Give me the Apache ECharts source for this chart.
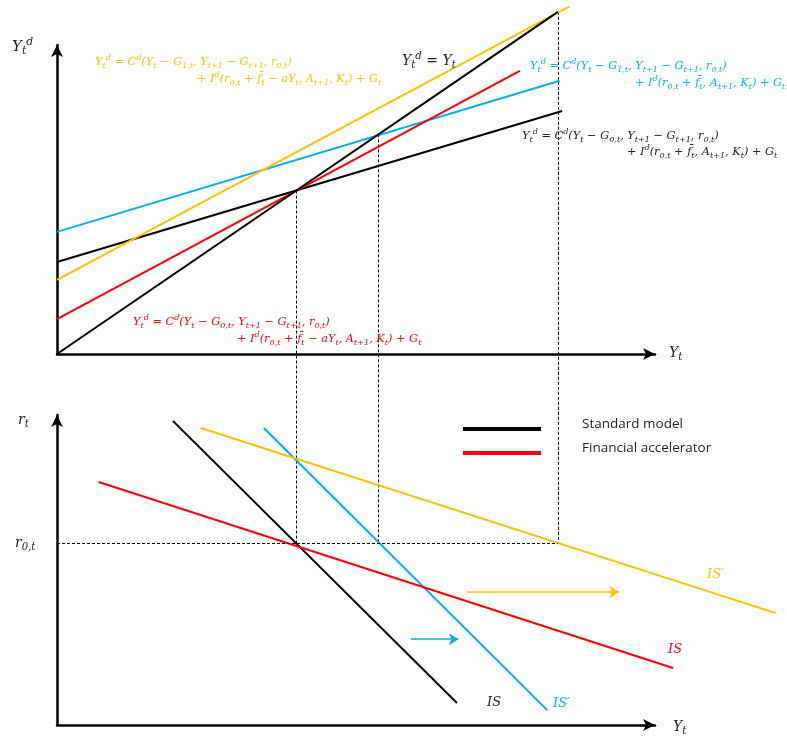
<!DOCTYPE html>
<html><head><meta charset="utf-8">
<script src="https://cdn.jsdelivr.net/npm/echarts@6/dist/echarts.min.js"></script>
<style>html,body{margin:0;padding:0;background:#fff}#c{width:787px;height:738px}</style>
</head><body><div id="c"></div>
<script>
// ---------- DATA ----------
// Top panel: aggregate demand schedules, endpoints [Y_t, Y_t^d]
const yd45          = [[0, 0], [8.04, 8.04]];       // Y^d = Y
const ydStandard    = [[0, 2.16], [8.11, 5.71]];    // black, G_0
const ydStandardNew = [[0, 2.87], [8.07, 6.42]];    // blue, G_1
const ydAccel       = [[0, 0.82], [7.43, 6.65]];    // red, G_0, financial accelerator
const ydAccelNew    = [[0, 1.74], [8.22, 8.16]];    // yellow, G_1, financial accelerator
const equilibriumY  = [3.84, 5.16, 8.04];           // Y at the three equilibria (on Y^d = Y)
// Bottom panel: IS curves, endpoints [Y_t, r_t]
const isStandard    = [[1.86, 9.81], [6.42, 0.71]];
const isStandardNew = [[3.32, 9.58], [7.87, 0.48]];
const isAccel       = [[0.67, 7.84], [9.89, 1.84]];
const isAccelNew    = [[2.31, 9.58], [11.54, 3.61]];
const r0 = 5.87;
const shiftStd   = [[5.68, 2.77], [6.44, 2.77]];
const shiftAccel = [[6.58, 4.29], [9.02, 4.29]];
const legendNames = ['Standard model', 'Financial accelerator'];

// ---------- STYLE ----------
const YEL = '#FFC000', BLU = '#00B0F0', RED = '#FF0000', BLK = '#000000';
const SERIF = 'DejaVu Serif';

function richMarkup(s) {
  let out = '', buf = '', i = 0;
  while (i < s.length) {
    if ((s[i] === '_' || s[i] === '^') && s[i + 1] === '{') {
      if (buf) { out += '{n|' + buf + '}'; buf = ''; }
      const end = s.indexOf('}', i);
      out += '{' + (s[i] === '_' ? 'sb' : 'sp') + '|' + s.slice(i + 2, end) + '}';
      i = end + 1;
    } else { buf += s[i]; i++; }
  }
  if (buf) out += '{n|' + buf + '}';
  return out;
}
function richStyles(fs, color) {
  const small = Math.round(fs * 0.72 * 10) / 10;
  const base = { fontFamily: SERIF, fontStyle: 'italic', fill: color, color: color };
  return {
    n:  Object.assign({}, base, { fontSize: fs, lineHeight: fs + 5 }),
    sb: Object.assign({}, base, { fontSize: small, lineHeight: small + 1, verticalAlign: 'bottom' }),
    sp: Object.assign({}, base, { fontSize: small, lineHeight: small + 1, verticalAlign: 'top' })
  };
}
function label(x, y, s, color, fs) {
  return {
    type: 'text', x: x, y: y, z: 50,
    style: { text: richMarkup(s), rich: richStyles(fs, color), fill: color,
             align: 'left', verticalAlign: 'middle' }
  };
}
function seg(name, pts, color, g, extra) {
  return Object.assign({
    name: name, type: 'lines', coordinateSystem: 'cartesian2d',
    xAxisIndex: g, yAxisIndex: g, clip: false, silent: true, z: 5,
    lineStyle: { color: color, width: 2, opacity: 1 },
    itemStyle: { color: color },
    data: [{ coords: pts }]
  }, extra || {});
}
function axisCommon(max) {
  return {
    type: 'value', min: 0, max: max,
    axisLine: { show: true, onZero: false, symbol: ['none', 'arrow'], symbolSize: [9, 12],
                lineStyle: { color: '#000', width: 2.5 } },
    axisTick: { show: false }, axisLabel: { show: false }, splitLine: { show: false }
  };
}
const dashed = { color: '#000', width: 1, type: [3, 2], opacity: 1 };

const series = [
  seg('ydStandard', ydStandard, BLK, 0),
  seg('ydStandardNew', ydStandardNew, BLU, 0),
  seg('ydAccel', ydAccel, RED, 0),
  seg('ydAccelNew', ydAccelNew, YEL, 0),
  seg('yd45', yd45, BLK, 0),
  seg('Standard model', isStandard, BLK, 1),
  seg('isStandardNew', isStandardNew, BLU, 1),
  seg('Financial accelerator', isAccel, RED, 1),
  seg('isAccelNew', isAccelNew, YEL, 1),
  seg('r0line', [[0, r0], [equilibriumY[2], r0]], BLK, 1, { lineStyle: dashed }),
  seg('shiftStd', shiftStd, BLU, 1, { symbol: ['none', 'arrow'], symbolSize: 9,
      lineStyle: { color: BLU, width: 1.5, opacity: 1 } }),
  seg('shiftAccel', shiftAccel, YEL, 1, { symbol: ['none', 'arrow'], symbolSize: 9,
      lineStyle: { color: YEL, width: 1.5, opacity: 1 } })
];

const EQ = 11.3;
const graphics = [
  label(12, 47, 'Y_{t}^{d}', '#222', 15),
  label(669, 353, 'Y_{t}', '#222', 14),
  label(402, 61, 'Y_{t}^{d} = Y_{t}', '#222', 14),
  label(95, 62, 'Y_{t}^{d} = C^{d}(Y_{t} − G_{1,t}, Y_{t+1} − G_{t+1}, r_{0,t})', YEL, EQ),
  label(197, 79, '+ I^{d}(r_{0,t} + f̄_{t} − aY_{t}, A_{t+1}, K_{t}) + G_{t}', YEL, EQ),
  label(530, 66, 'Y_{t}^{d} = C^{d}(Y_{t} − G_{1,t}, Y_{t+1} − G_{t+1}, r_{0,t})', BLU, EQ),
  label(635, 83, '+ I^{d}(r_{0,t} + f̄_{t}, A_{t+1}, K_{t}) + G_{t}', BLU, EQ),
  label(522, 136, 'Y_{t}^{d} = C^{d}(Y_{t} − G_{0,t}, Y_{t+1} − G_{t+1}, r_{0,t})', '#222', EQ),
  label(627, 152, '+ I^{d}(r_{0,t} + f̄_{t}, A_{t+1}, K_{t}) + G_{t}', '#222', EQ),
  label(133, 322, 'Y_{t}^{d} = C^{d}(Y_{t} − G_{0,t}, Y_{t+1} − G_{t+1}, r_{0,t})', RED, EQ),
  label(237, 339, '+ I^{d}(r_{0,t} + f̄_{t} − aY_{t}, A_{t+1}, K_{t}) + G_{t}', RED, EQ),
  label(18, 420, 'r_{t}', '#222', 14),
  label(15, 543, 'r_{0,t}', '#222', 14),
  label(673, 727, 'Y_{t}', '#222', 14),
  label(487, 703, 'IS', '#222', 13),
  label(553, 704, 'IS′', BLU, 13),
  label(668, 650, 'IS', RED, 13),
  label(707, 575, 'IS′', YEL, 13)
];

const option = {
  animation: false,
  backgroundColor: '#fff',
  grid: [
    { left: 57, right: 132, top: 45, bottom: 384 },
    { left: 57, right: 132, top: 415, bottom: 13 }
  ],
  xAxis: [ Object.assign(axisCommon(9.6), { gridIndex: 0 }),
           Object.assign(axisCommon(9.6), { gridIndex: 1 }) ],
  yAxis: [ Object.assign(axisCommon(7.26), { gridIndex: 0 }),
           Object.assign(axisCommon(10), { gridIndex: 1 }) ],
  legend: {
    data: legendNames, orient: 'vertical', left: 463, top: 417, padding: 0,
    icon: 'rect', itemWidth: 76, itemHeight: 2, itemGap: 0, selectedMode: false,
    formatter: '{a|{name}}',
    textStyle: { rich: { a: { fontFamily: 'Open Sans', fontSize: 13.5, color: '#222',
                 lineHeight: 14, padding: [0, 0, 10, 37] } } }
  },
  graphic: graphics,
  series: series
};

const chart = echarts.init(document.getElementById('c'));
chart.setOption(option);
// dashed verticals from each equilibrium down to r0 in the lower panel
const pxAtR0 = chart.convertToPixel({ gridIndex: 1 }, [0, r0]);
const ydAtR0 = chart.convertFromPixel({ gridIndex: 0 }, pxAtR0)[1];
const verticals = equilibriumY.map(function (y, i) {
  return seg('eq' + i, [[y, y], [y, ydAtR0]], BLK, 0, { lineStyle: dashed, z: 3 });
});
chart.setOption({ series: series.concat(verticals) });
</script></body></html>
